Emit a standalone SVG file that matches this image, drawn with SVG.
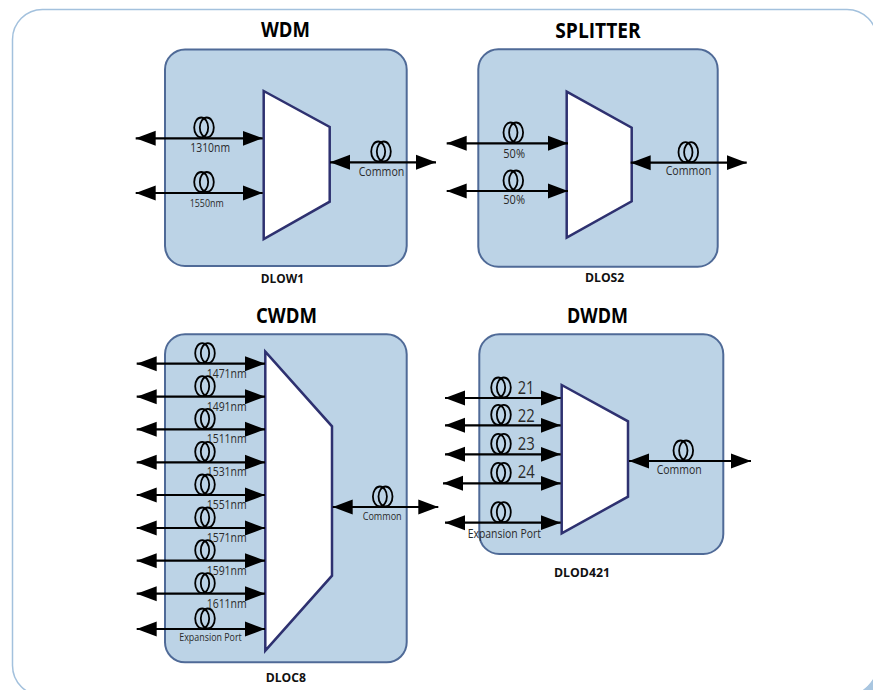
<svg xmlns="http://www.w3.org/2000/svg" width="873" height="690" viewBox="0 0 873 690">
<style>
text{font-family:"Open Sans","Noto Sans","Liberation Sans",sans-serif;fill:#2a2a2a}
.t{font-weight:700;font-size:21px;fill:#000}
.c{font-weight:700;font-size:12.500px;fill:#111}
.l{font-size:12px}
.s{font-size:10px}
.n{font-size:18px}
.panel{fill:#bcd3e6;stroke:#4f6a97;stroke-width:2}
.trap{fill:#fff;stroke:#2e3170;stroke-width:2.500}
.a{stroke:#000;stroke-width:2.200;fill:none;marker-start:url(#h);marker-end:url(#h)}
.coil ellipse{fill:none;stroke:#000;stroke-width:1.800}
</style>
<defs>
<marker id="h" markerUnits="userSpaceOnUse" markerWidth="21" markerHeight="16" viewBox="0 0 21 16" refX="20" refY="8" orient="auto-start-reverse"><path d="M0 0.500L20 8L0 15.500Z" fill="#000"/></marker>
<g id="coil" class="coil"><ellipse cx="-2.800" cy="-10.500" rx="7" ry="10"/><ellipse cx="2.800" cy="-10.500" rx="7" ry="10"/></g>
</defs>
<rect width="873" height="690" fill="#fff"/>
<rect id="frame" x="12.500" y="9.500" width="864.500" height="686" rx="30" fill="none" stroke="#a3c1dd" stroke-width="1.500"/>
<path d="M873 680Q868 686 863 690L873 690Z" fill="#a9c6e0"/>

<g id="wdm">
<rect class="panel" x="165" y="49.500" width="241.700" height="216.500" rx="20"/>
<path class="trap" d="M263.700 91L329.700 127V201.700L263.700 239Z"/>
<text class="t" x="261" y="37" textLength="49" lengthAdjust="spacingAndGlyphs">WDM</text>
<text class="c" x="260.700" y="282.700" textLength="43.300" lengthAdjust="spacingAndGlyphs">DLOW1</text>
<text class="l" x="190.300" y="152" textLength="39.700" lengthAdjust="spacingAndGlyphs">1310nm</text>
<text class="s" x="189.700" y="206.500" textLength="34" lengthAdjust="spacingAndGlyphs">1550nm</text>
<text class="l" x="358.700" y="175.700" textLength="45.600" lengthAdjust="spacingAndGlyphs">Common</text>
</g>

<g id="splitter">
<rect class="panel" x="478.300" y="49.300" width="239.400" height="217.400" rx="20"/>
<path class="trap" d="M566.700 91.700L631.700 127.700V201.300L566.700 237.700Z"/>
<text class="t" x="555.300" y="38" textLength="85.400" lengthAdjust="spacingAndGlyphs">SPLITTER</text>
<text class="c" x="585" y="282.300" textLength="39.300" lengthAdjust="spacingAndGlyphs">DLOS2</text>
<text class="l" x="503.300" y="158.300" textLength="21.700" lengthAdjust="spacingAndGlyphs">50%</text>
<text class="l" x="503.300" y="204.300" textLength="21.700" lengthAdjust="spacingAndGlyphs">50%</text>
<text class="l" x="665.700" y="174.700" textLength="45.600" lengthAdjust="spacingAndGlyphs">Common</text>
</g>

<g id="cwdm">
<rect class="panel" x="165" y="334.300" width="241.700" height="328" rx="20"/>
<path class="trap" d="M265.300 351.700L332 426.300V575.700L265.300 650.700Z"/>
<text class="t" x="256" y="323" textLength="61" lengthAdjust="spacingAndGlyphs">CWDM</text>
<text class="c" x="265.700" y="681.700" textLength="40.300" lengthAdjust="spacingAndGlyphs">DLOC8</text>
<text class="l" x="206.700" y="377.700" textLength="40" lengthAdjust="spacingAndGlyphs">1471nm</text>
<text class="l" x="206.700" y="410.700" textLength="40" lengthAdjust="spacingAndGlyphs">1491nm</text>
<text class="l" x="206.700" y="443.300" textLength="40" lengthAdjust="spacingAndGlyphs">1511nm</text>
<text class="l" x="206.700" y="476.300" textLength="40" lengthAdjust="spacingAndGlyphs">1531nm</text>
<text class="l" x="206.700" y="509" textLength="40" lengthAdjust="spacingAndGlyphs">1551nm</text>
<text class="l" x="206.700" y="542" textLength="40" lengthAdjust="spacingAndGlyphs">1571nm</text>
<text class="l" x="206.700" y="574.700" textLength="40" lengthAdjust="spacingAndGlyphs">1591nm</text>
<text class="l" x="206.700" y="607.700" textLength="40" lengthAdjust="spacingAndGlyphs">1611nm</text>
<text class="s" x="179.300" y="641" textLength="62.400" lengthAdjust="spacingAndGlyphs">Expansion Port</text>
<text class="s" x="362.700" y="520" textLength="39" lengthAdjust="spacingAndGlyphs">Common</text>
</g>

<g id="dwdm">
<rect class="panel" x="479.300" y="334.300" width="244" height="219.700" rx="20"/>
<path class="trap" d="M561.700 385L628 421.300V496.700L561.700 533.300Z"/>
<text class="t" x="567" y="323" textLength="61" lengthAdjust="spacingAndGlyphs">DWDM</text>
<text class="c" x="554" y="576.700" textLength="56" lengthAdjust="spacingAndGlyphs">DLOD421</text>
<text class="n" x="517.700" y="394" textLength="16.700" lengthAdjust="spacingAndGlyphs">21</text>
<text class="n" x="517.700" y="422" textLength="17" lengthAdjust="spacingAndGlyphs">22</text>
<text class="n" x="517.700" y="450" textLength="17" lengthAdjust="spacingAndGlyphs">23</text>
<text class="n" x="517.700" y="477.700" textLength="17" lengthAdjust="spacingAndGlyphs">24</text>
<text class="l" x="467.700" y="537.700" textLength="73.300" lengthAdjust="spacingAndGlyphs">Expansion Port</text>
<text class="l" x="656.700" y="474" textLength="45" lengthAdjust="spacingAndGlyphs">Common</text>
</g>

<g id="connectors">
<line class="a" x1="135.700" y1="138.300" x2="262.700" y2="138.300"/>
<line class="a" x1="135.700" y1="193" x2="262.700" y2="193"/>
<line class="a" x1="330" y1="162.300" x2="436" y2="162.300"/>
<line class="a" x1="446.700" y1="143.300" x2="568" y2="143.300"/>
<line class="a" x1="446.700" y1="191" x2="568" y2="191"/>
<line class="a" x1="630.700" y1="162.700" x2="746.700" y2="162.700"/>
<line class="a" x1="136.700" y1="363.700" x2="265" y2="363.700"/>
<line class="a" x1="136.700" y1="396.700" x2="265" y2="396.700"/>
<line class="a" x1="136.700" y1="429.300" x2="265" y2="429.300"/>
<line class="a" x1="136.700" y1="462.300" x2="265" y2="462.300"/>
<line class="a" x1="136.700" y1="495" x2="265" y2="495"/>
<line class="a" x1="136.700" y1="528" x2="265" y2="528"/>
<line class="a" x1="136.700" y1="560.700" x2="265" y2="560.700"/>
<line class="a" x1="136.700" y1="593.700" x2="265" y2="593.700"/>
<line class="a" x1="136.700" y1="629" x2="265" y2="629"/>
<line class="a" x1="332.700" y1="507" x2="438.300" y2="507"/>
<line class="a" x1="445" y1="398" x2="560.700" y2="398"/>
<line class="a" x1="445" y1="425.300" x2="560.700" y2="425.300"/>
<line class="a" x1="445" y1="454.300" x2="560.700" y2="454.300"/>
<line class="a" x1="443" y1="483.300" x2="560.700" y2="483.300"/>
<line class="a" x1="445" y1="522.700" x2="560.700" y2="522.700"/>
<line class="a" x1="629" y1="461" x2="751" y2="461"/>
<use href="#coil" x="204" y="138"/>
<use href="#coil" x="204" y="192.500"/>
<use href="#coil" x="381" y="162"/>
<use href="#coil" x="513.300" y="143"/>
<use href="#coil" x="513.300" y="191"/>
<use href="#coil" x="688.300" y="162.700"/>
<use href="#coil" x="205" y="363.700"/>
<use href="#coil" x="205" y="396.700"/>
<use href="#coil" x="205" y="429.300"/>
<use href="#coil" x="205" y="462.300"/>
<use href="#coil" x="205" y="495"/>
<use href="#coil" x="205" y="528"/>
<use href="#coil" x="205" y="560.700"/>
<use href="#coil" x="205" y="593.700"/>
<use href="#coil" x="205" y="629"/>
<use href="#coil" x="382.700" y="507"/>
<use href="#coil" x="501" y="398"/>
<use href="#coil" x="501" y="425.300"/>
<use href="#coil" x="501" y="454.300"/>
<use href="#coil" x="501" y="483.300"/>
<use href="#coil" x="501" y="522.700"/>
<use href="#coil" x="683.300" y="461"/>
</g>
</svg>
